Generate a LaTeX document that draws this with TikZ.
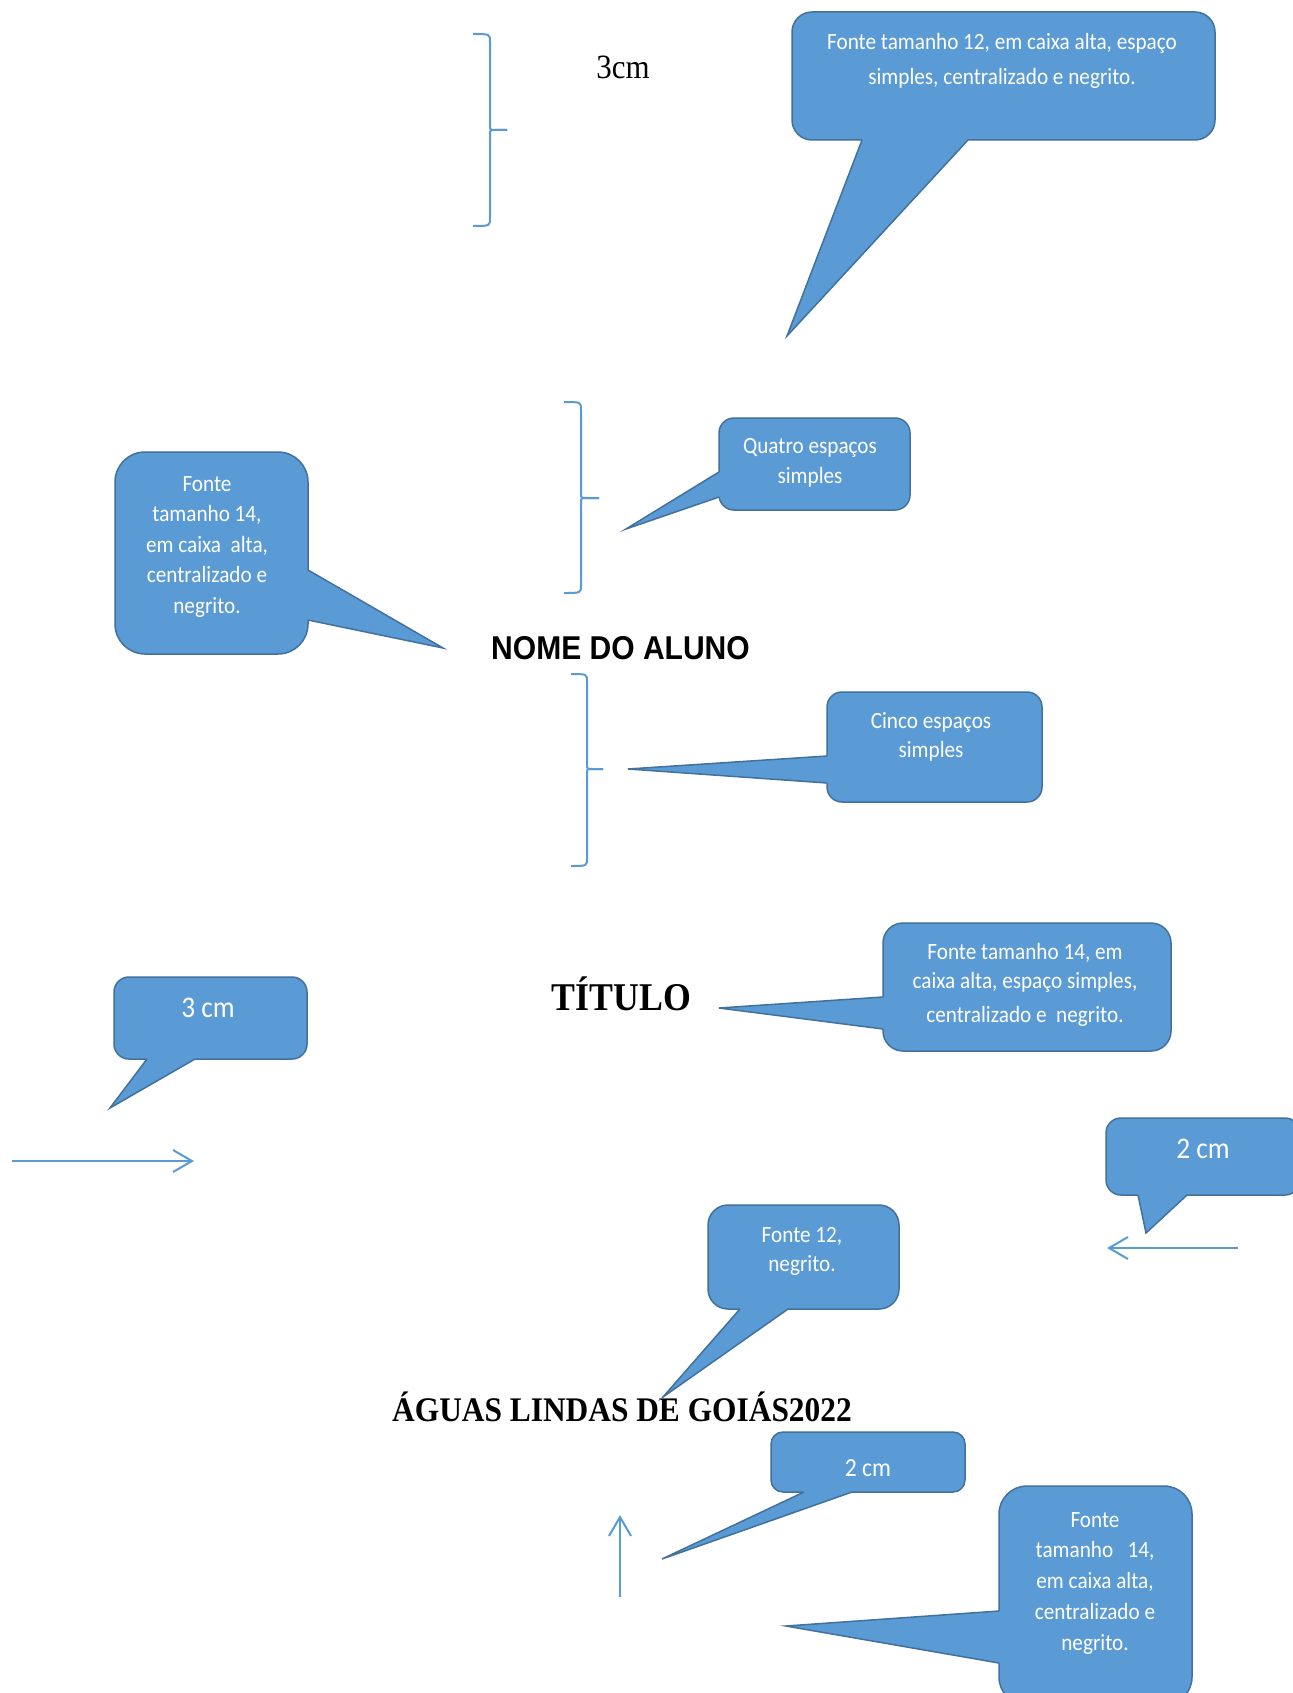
\documentclass[tikz,border=0pt]{standalone}
\usepackage{fontspec}
\setmainfont{Liberation Serif}[FakeStretch=0.91]
\newfontfamily\calibri{Carlito}[FakeStretch=0.91]
\newfontfamily\arialfonte{Liberation Sans}[FakeStretch=0.91]
\usepackage{tikz}
\usetikzlibrary{arrows.meta}
\definecolor{azul}{HTML}{5B9BD5}
\definecolor{bordaazul}{HTML}{41719C}

\begin{document}
\begin{tikzpicture}[x=1pt, y=-1pt,
  balao/.style={draw=bordaazul, fill=azul, line width=1.5pt, inner sep=0pt},
  cauda/.style={draw=bordaazul, line width=1.5pt},
  textobalao/.style={text=white, align=center, inner sep=0pt, anchor=north,
    font=\calibri\fontsize{23.3}{#1}\selectfont, execute at begin node=\strut},
  textocurto/.style={text=white, inner sep=0pt, anchor=base,
    font=\calibri\fontsize{#1}{#1}\selectfont},
  chave/.style={draw=azul, line width=2pt},
  seta/.style={draw=azul, line width=2pt, -{Straight Barb[length=19pt,width=22pt]}}]
\path[use as bounding box, fill=white] (0,0) rectangle (1292,1693);

% chaves
\draw[chave] (473,34) .. controls (490,34) .. (490,42) -- (490,125) .. controls (490,130) .. (495,130) -- (507,130);
\draw[chave] (507,130) -- (495,130) .. controls (490,130) .. (490,135) -- (490,218) .. controls (490,226) .. (473,226);
\draw[chave] (564,402) .. controls (581,402) .. (581,410) -- (581,493) .. controls (581,498) .. (586,498) -- (599,498);
\draw[chave] (599,498) -- (586,498) .. controls (581,498) .. (581,503) -- (581,585) .. controls (581,593) .. (564,593);
\draw[chave] (571,674) .. controls (587,674) .. (587,682) -- (587,764) .. controls (587,769) .. (592,769) -- (603,769);
\draw[chave] (603,769) -- (592,769) .. controls (587,769) .. (587,774) -- (587,858) .. controls (587,866) .. (571,866);

% textos da pagina
\node[anchor=base, inner sep=0pt, font=\fontsize{34}{34}\selectfont] (tresCm) at (623,79) {3cm};
\node[anchor=base, inner sep=0pt, font=\arialfonte\bfseries\fontsize{33}{33}\selectfont] (nomeAluno) at (620.5,659) {NOME DO ALUNO};
\node[anchor=base, inner sep=0pt, font=\bfseries\fontsize{39.3}{39.3}\selectfont] (titulo) at (621.5,1010) {TÍTULO};
\node[anchor=base, inner sep=0pt, font=\bfseries\fontsize{34.5}{34.5}\selectfont] (cidade) at (622,1421) {ÁGUAS LINDAS DE GOIÁS2022};

% balao 1
\node[balao, rounded corners=20pt, minimum width=423pt, minimum height=128pt] (balao1) at (1003.5,76) {};
\coordinate (ponta1) at (787,336);
\fill[azul] (862,132) -- (862,140) -- (ponta1) -- (968,140) -- (968,132) -- cycle;
\draw[cauda] (862,140) -- (ponta1) -- (968,140);
\node[textobalao=35] (texto1) at (1002,33.5) {Fonte tamanho 12, em caixa alta, espaço\\simples, centralizado e negrito.};

% balao 2
\node[balao, rounded corners=15pt, minimum width=191pt, minimum height=92pt] (balao2) at (814.5,464) {};
\coordinate (ponta2) at (626,529);
\fill[azul] (727,472) -- (719,472) -- (ponta2) -- (719,497) -- (727,497) -- cycle;
\draw[cauda] (719,472) -- (ponta2) -- (719,497);
\node[textobalao=30] (texto2) at (810,438) {Quatro espaços\\simples};

% balao 3
\node[balao, rounded corners=30pt, minimum width=193pt, minimum height=202pt] (balao3) at (211.5,553) {};
\coordinate (ponta3) at (443,648);
\fill[azul] (300,570) -- (308,570) -- (ponta3) -- (308,620) -- (300,620) -- cycle;
\draw[cauda] (308,570) -- (ponta3) -- (308,620);
\node[textobalao=30.5] (texto3) at (207,476) {Fonte\\tamanho 14,\\em caixa\ \ alta,\\centralizado e\\negrito.};

% balao 4
\node[balao, rounded corners=15pt, minimum width=215pt, minimum height=110pt] (balao4) at (934.5,747) {};
\coordinate (ponta4) at (628,769);
\fill[azul] (835,756) -- (827,756) -- (ponta4) -- (827,783) -- (835,783) -- cycle;
\draw[cauda] (827,756) -- (ponta4) -- (827,783);
\node[textobalao=29] (texto4) at (931,712) {Cinco espaços\\simples};

% balao 5
\node[balao, rounded corners=20pt, minimum width=288pt, minimum height=128pt] (balao5) at (1027,987) {};
\coordinate (ponta5) at (719,1008);
\fill[azul] (891,997) -- (883,997) -- (ponta5) -- (883,1029) -- (891,1029) -- cycle;
\draw[cauda] (883,997) -- (ponta5) -- (883,1029);
\node[textobalao=29] (texto5) at (1025,943) {Fonte tamanho 14, em\\caixa alta, espaço simples,\\[5pt]centralizado e\ \ negrito.};

% balao 6
\node[balao, rounded corners=15pt, minimum width=193pt, minimum height=82pt] (balao6) at (210.5,1018) {};
\coordinate (ponta6) at (110,1108);
\fill[azul] (147,1051) -- (147,1059) -- (ponta6) -- (195,1059) -- (195,1051) -- cycle;
\draw[cauda] (147,1059) -- (ponta6) -- (195,1059);
\node[textocurto=30] (texto6) at (208,1017) {3 cm};

% balao 7
\node[balao, rounded corners=15pt, minimum width=194pt, minimum height=77pt] (balao7) at (1203,1156.5) {};
\coordinate (ponta7) at (1146,1233);
\fill[azul] (1138,1187) -- (1138,1195) -- (ponta7) -- (1187,1195) -- (1187,1187) -- cycle;
\draw[cauda] (1138,1195) -- (ponta7) -- (1187,1195);
\node[textocurto=30] (texto7) at (1203,1158) {2 cm};

% balao 8
\node[balao, rounded corners=20pt, minimum width=191pt, minimum height=104pt] (balao8) at (803.5,1257) {};
\coordinate (ponta8) at (663,1397);
\fill[azul] (740,1301) -- (740,1309) -- (ponta8) -- (788,1309) -- (788,1301) -- cycle;
\draw[cauda] (740,1309) -- (ponta8) -- (788,1309);
\node[textobalao=29] (texto8) at (802,1227) {Fonte 12,\\negrito.};

% balao 9
\node[balao, rounded corners=12pt, minimum width=194pt, minimum height=60pt] (balao9) at (868,1462) {};
\coordinate (ponta9) at (662,1559);
\fill[azul] (804,1484) -- (804,1492) -- (ponta9) -- (852,1492) -- (852,1484) -- cycle;
\draw[cauda] (804,1492) -- (ponta9) -- (852,1492);
\node[textocurto=26] (texto9) at (868,1476) {2 cm};

% balao 10
\node[balao, rounded corners=28pt, minimum width=193pt, minimum height=219pt] (balao10) at (1095.5,1595.5) {};
\coordinate (ponta10) at (786,1626);
\fill[azul] (1007,1611) -- (999,1611) -- (ponta10) -- (999,1663) -- (1007,1663) -- cycle;
\draw[cauda] (999,1611) -- (ponta10) -- (999,1663);
\node[textobalao=30.75] (texto10) at (1095,1512) {Fonte\\tamanho\ \ \ 14,\\em caixa alta,\\centralizado e\\negrito.};

% setas
\coordinate (seta1a) at (12,1161);
\coordinate (seta1b) at (194,1161);
\draw[seta] (seta1a) -- (seta1b);
\coordinate (seta2a) at (1238,1248);
\coordinate (seta2b) at (1107,1248);
\draw[seta] (seta2a) -- (seta2b);
\coordinate (seta3a) at (620,1597);
\coordinate (seta3b) at (620,1515);
\draw[seta] (seta3a) -- (seta3b);
\end{tikzpicture}
\end{document}
